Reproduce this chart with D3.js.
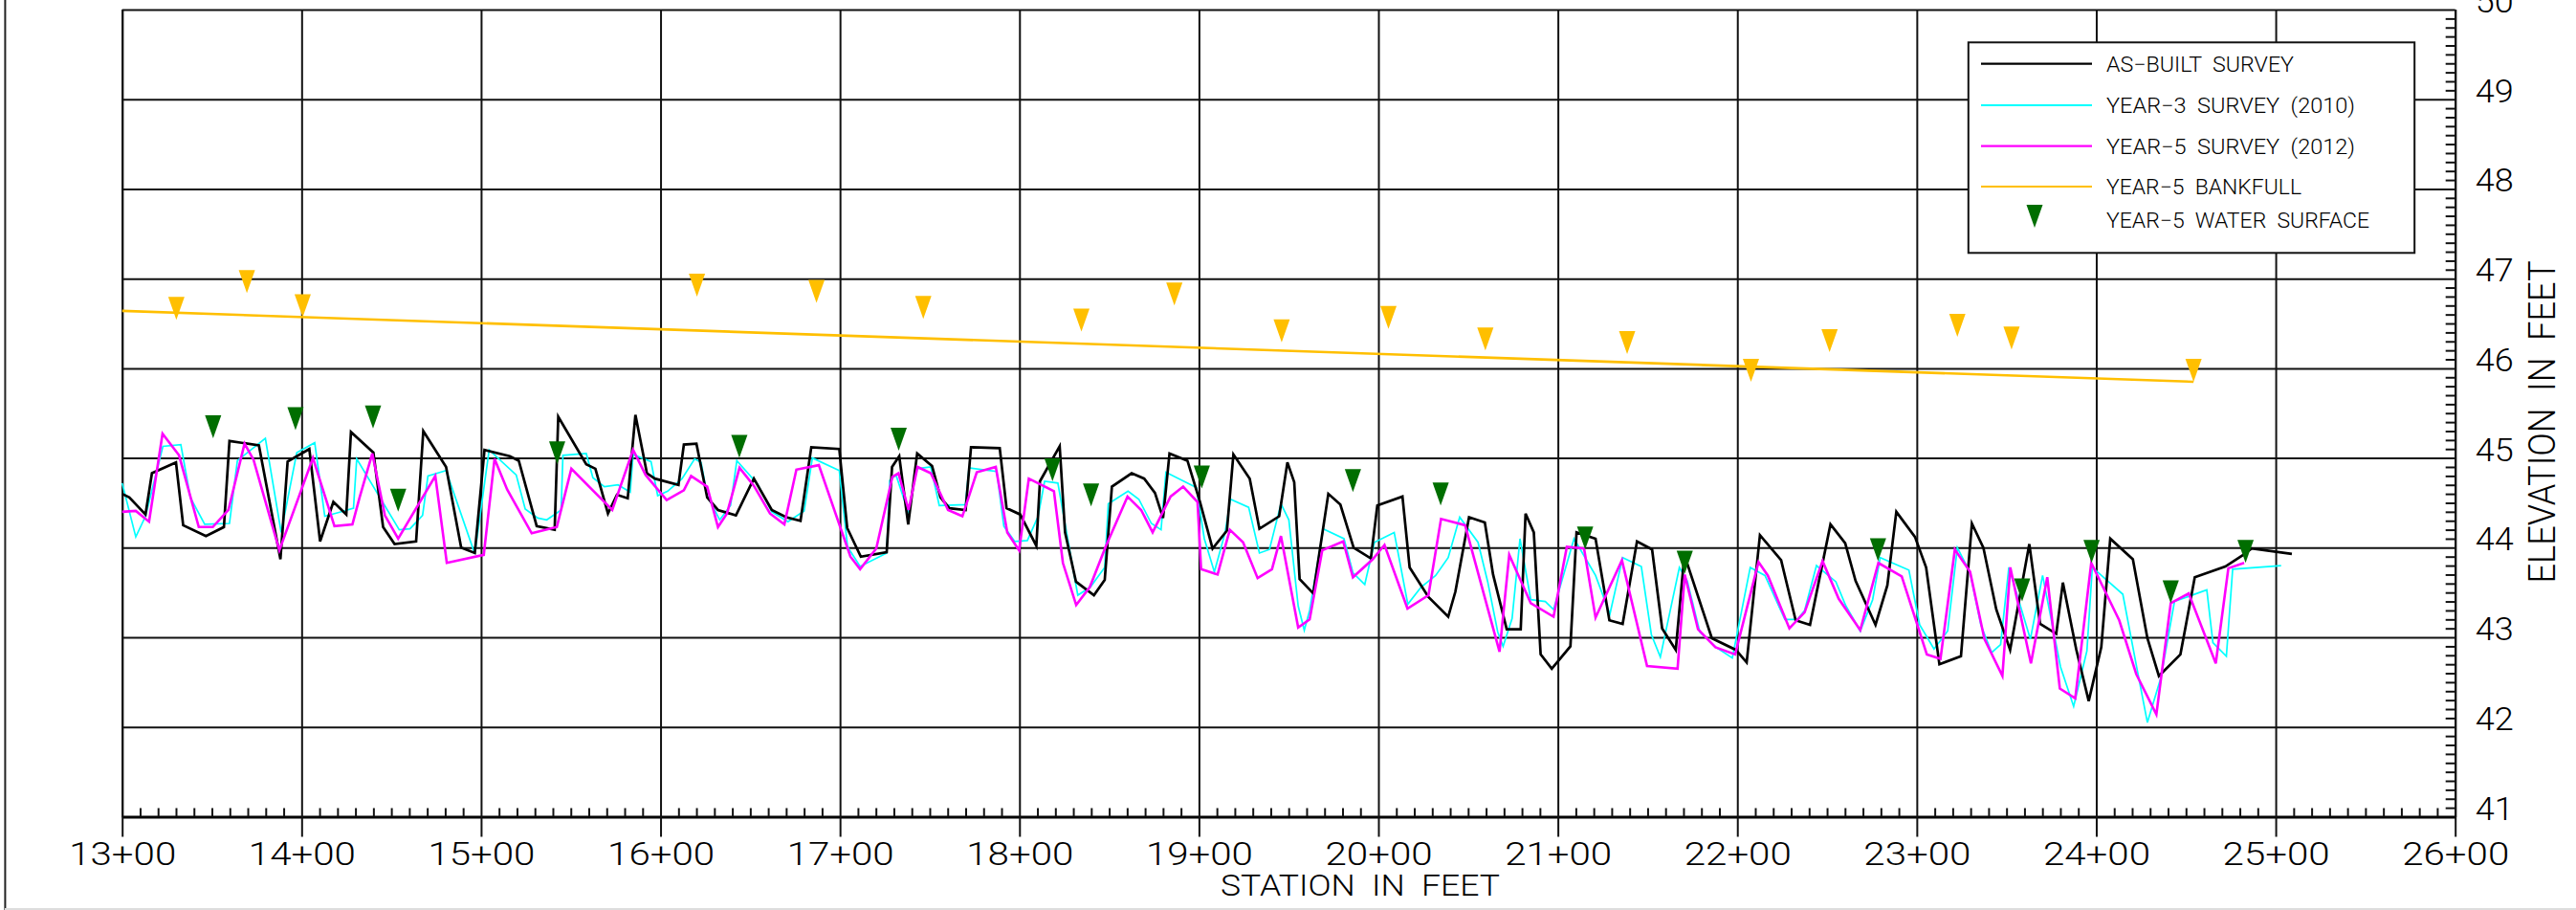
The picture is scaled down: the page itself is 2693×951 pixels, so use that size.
<!DOCTYPE html>
<html>
<head>
<meta charset="utf-8">
<script src="https://cdn.jsdelivr.net/npm/d3@7"></script>
<style>
html, body { margin: 0; padding: 0; background: #fff; }
svg { display: block; }
text { font-family: Roboto, "DejaVu Sans Condensed", sans-serif; font-weight: 300; fill: #000; white-space: pre; }
</style>
</head>
<body>
<div id="chart"></div>
<script>
// ---- data: [station (ft), elevation (ft)] ----
var asBuilt = [[1300,44.60],[1304,44.56],[1313,44.37],[1316.6,44.83],[1330,44.95],[1334,44.25],[1346.7,44.13],[1356.7,44.23],[1359.8,45.19],[1376.2,45.14],[1388.2,43.87],[1392.2,44.96],[1404.3,45.10],[1410.3,44.07],[1417.7,44.51],[1424.9,44.37],[1427.5,45.29],[1440,45.06],[1445.4,44.23],[1451.8,44.04],[1463.8,44.07],[1467.8,45.30],[1480.5,44.90],[1488.9,44.00],[1496.5,43.94],[1501.9,45.09],[1516,45.02],[1521,44.97],[1531,44.24],[1541,44.20],[1543,45.46],[1558.6,44.93],[1563.7,44.88],[1570.7,44.38],[1575.7,44.59],[1581.7,44.55],[1586,45.48],[1592.4,44.83],[1596.8,44.77],[1610,44.70],[1613,45.15],[1620,45.16],[1626,44.56],[1632,44.42],[1642,44.36],[1652,44.77],[1662,44.42],[1670,44.34],[1678,44.30],[1684,45.12],[1699.6,45.10],[1704,44.22],[1711.6,43.90],[1726,43.95],[1729,44.90],[1733,45.02],[1738,44.26],[1743,45.05],[1751.3,44.91],[1756,44.56],[1761,44.44],[1770,44.42],[1773,45.12],[1789,45.11],[1792.8,44.44],[1800.4,44.37],[1809.4,44.02],[1811.4,44.74],[1822.4,45.13],[1825.4,44.17],[1831.5,43.62],[1841.5,43.47],[1847.5,43.64],[1851.5,44.68],[1862.5,44.83],[1869.5,44.77],[1875.5,44.61],[1880,44.33],[1883.6,45.05],[1893.6,44.97],[1900.6,44.51],[1907.6,43.99],[1915.6,44.19],[1919.2,45.04],[1928.3,44.77],[1933.7,44.21],[1944.7,44.35],[1949.3,44.95],[1953.1,44.73],[1956.1,43.65],[1963.7,43.49],[1972.1,44.60],[1978.8,44.48],[1986.2,44.00],[1995.8,43.88],[1999.4,44.47],[2013.4,44.57],[2017.4,43.78],[2027.9,43.45],[2038.9,43.23],[2042.9,43.51],[2050.5,44.34],[2059.3,44.28],[2063.9,43.70],[2071.5,43.09],[2079.3,43.09],[2082,44.38],[2086.6,44.17],[2090.4,42.81],[2096.6,42.65],[2107,42.90],[2110.4,44.17],[2121,44.10],[2128.7,43.19],[2136.1,43.15],[2144.1,44.07],[2152.5,43.98],[2158.1,43.10],[2165.7,42.86],[2170.5,43.92],[2185.8,42.99],[2199.2,42.86],[2205.2,42.72],[2212.6,44.14],[2224.4,43.86],[2232.5,43.19],[2240.5,43.14],[2251.9,44.26],[2260.1,44.05],[2265.9,43.63],[2277,43.14],[2283.6,43.58],[2288.6,44.40],[2299,44.12],[2305.2,43.78],[2312.6,42.70],[2324.6,42.79],[2330.7,44.27],[2337.1,44.00],[2344.3,43.31],[2352,42.86],[2362.7,44.04],[2368.7,43.15],[2377.7,43.04],[2381.4,43.61],[2388.8,42.87],[2395.8,42.29],[2402.8,42.89],[2407.8,44.10],[2420.4,43.87],[2428.5,42.99],[2434.9,42.57],[2446.9,42.81],[2454.9,43.67],[2471.9,43.79],[2481.9,43.92],[2486.6,43.99],[2509,43.93]];

var year3 = [[1300,44.72],[1307.6,44.12],[1313,44.35],[1322.7,45.13],[1332.7,45.15],[1338,44.56],[1346,44.26],[1359.8,44.27],[1364.2,44.97],[1379.8,45.22],[1388.6,44.17],[1397.3,45.06],[1407.3,45.17],[1412.9,44.35],[1420.3,44.39],[1428.9,44.44],[1430.7,44.99],[1454.4,44.20],[1460.4,44.21],[1467.4,44.36],[1470.4,44.80],[1480.5,44.86],[1496.5,43.93],[1504.5,45.09],[1519.6,44.81],[1524.6,44.43],[1531.6,44.33],[1536.6,44.31],[1544.6,44.42],[1545.6,45.03],[1558.6,45.05],[1562.3,44.78],[1568.7,44.68],[1576.3,44.70],[1583.1,44.62],[1584.7,45.04],[1594.7,44.96],[1598.4,44.58],[1604,44.63],[1612,44.77],[1619,44.99],[1622.6,44.95],[1626,44.58],[1633,44.31],[1639,44.47],[1642.5,44.97],[1654,44.71],[1662,44.40],[1671,44.29],[1680,44.41],[1684.6,45.00],[1699.6,44.86],[1704.2,44.01],[1711.2,43.79],[1726,43.94],[1727.7,44.75],[1731.2,44.81],[1738.3,44.38],[1742.6,44.88],[1750.6,44.90],[1755.3,44.47],[1769.9,44.48],[1771.9,44.89],[1787.3,44.85],[1791.3,44.24],[1797.3,44.07],[1804.4,44.08],[1810.4,44.35],[1814,44.74],[1821.4,44.72],[1827.4,44.04],[1832.5,43.47],[1839.5,43.56],[1847.5,43.78],[1849.5,44.49],[1860.5,44.63],[1866.5,44.54],[1873.5,44.27],[1878.9,44.20],[1881.6,44.84],[1898.6,44.67],[1903,44.10],[1908.6,43.73],[1914.6,44.17],[1917.6,44.54],[1927.7,44.45],[1933.7,43.94],[1939.3,43.98],[1945.7,44.49],[1950.1,44.31],[1955.3,43.35],[1958.7,43.08],[1961.7,43.30],[1969.3,44.21],[1980.8,44.10],[1985.8,43.72],[1992.4,43.59],[1997.8,44.06],[2008.8,44.17],[2016.4,43.37],[2023.8,43.56],[2031.9,43.69],[2038.9,43.89],[2045.3,44.34],[2055.5,44.06],[2060.9,43.62],[2066.5,43.06],[2069.5,42.90],[2074.5,43.21],[2078.9,44.10],[2084.9,43.42],[2093,43.40],[2097.6,43.31],[2109,44.10],[2121,43.69],[2129,43.26],[2136.1,43.89],[2146.5,43.79],[2152.1,43.03],[2157.1,42.78],[2167.7,43.78],[2172.1,43.63],[2179.1,43.06],[2188.1,42.89],[2197.2,42.77],[2207.2,43.78],[2215.4,43.69],[2226.5,43.20],[2233.5,43.20],[2237.5,43.30],[2244.1,43.80],[2254.9,43.62],[2260.5,43.35],[2268.5,43.07],[2275.4,43.42],[2279.6,43.89],[2295.6,43.75],[2301.6,43.14],[2309.6,42.87],[2317.2,43.07],[2322.6,44.00],[2329.7,43.72],[2335.7,43.14],[2341.7,42.83],[2346.7,42.92],[2351.3,43.78],[2363.3,42.98],[2370.1,43.69],[2380.1,42.67],[2387.4,42.23],[2394.8,42.85],[2397.8,43.78],[2414.8,43.48],[2422.8,42.64],[2428.5,42.05],[2436,42.55],[2443.6,43.40],[2461.6,43.53],[2465,42.94],[2472.5,42.79],[2476,43.76],[2503,43.80]];

var year5 = [[1300,44.40],[1307.6,44.41],[1315,44.29],[1322.5,45.27],[1331.7,45.03],[1342.7,44.23],[1350.5,44.23],[1359.2,44.42],[1368.2,45.16],[1373.2,44.98],[1387.6,43.97],[1406.3,45.00],[1418.3,44.24],[1428.3,44.26],[1432.3,44.56],[1439.4,45.05],[1446.4,44.36],[1453.8,44.10],[1474.5,44.80],[1480.9,43.83],[1501.5,43.92],[1507.5,44.99],[1514.5,44.65],[1528.2,44.16],[1542.2,44.23],[1550.3,44.88],[1573.1,44.42],[1584.7,45.09],[1591.7,44.81],[1603.4,44.53],[1613,44.64],[1617,44.80],[1626,44.68],[1632,44.23],[1637,44.38],[1644,44.89],[1652,44.69],[1661,44.38],[1669,44.26],[1675.7,44.87],[1688.2,44.92],[1705.8,43.90],[1711.2,43.76],[1720.2,43.99],[1729.2,44.79],[1732.6,44.83],[1738.2,44.42],[1743.2,44.90],[1750.6,44.83],[1760.2,44.42],[1768.2,44.35],[1776.2,44.84],[1786.8,44.90],[1793.2,44.17],[1799.8,43.97],[1805.2,44.77],[1819.2,44.63],[1824.2,43.83],[1831.6,43.36],[1839.2,43.56],[1848.2,44.02],[1860.2,44.57],[1867.8,44.42],[1874.2,44.17],[1884.2,44.57],[1891.2,44.68],[1899.2,44.51],[1901.2,43.76],[1910.4,43.70],[1917.2,44.20],[1924.6,44.06],[1932.7,43.66],[1940.7,43.76],[1945.7,44.13],[1955.3,43.11],[1961.7,43.20],[1968.7,43.97],[1980.4,44.07],[1985.8,43.67],[1996.8,43.87],[2003.4,44.03],[2016.2,43.32],[2027.9,43.47],[2034.9,44.32],[2048.3,44.25],[2067.5,42.84],[2072.9,43.92],[2084.9,43.38],[2097.6,43.23],[2105,44.01],[2114.6,43.99],[2121,43.22],[2135.7,43.86],[2149.7,42.68],[2166.7,42.65],[2170.7,43.70],[2178.1,43.09],[2187.8,42.89],[2198.8,42.81],[2211.8,43.84],[2217,43.69],[2229,43.10],[2237.5,43.28],[2247.5,43.85],[2256.5,43.43],[2268.5,43.08],[2278.6,43.83],[2291.6,43.68],[2305.6,42.81],[2313.2,42.76],[2321.2,43.98],[2329.7,43.73],[2337.7,42.98],[2347.7,42.57],[2352.1,43.78],[2363.6,42.71],[2372.7,43.67],[2379.7,42.43],[2388.3,42.32],[2397.2,43.83],[2412.8,43.19],[2422.3,42.59],[2433.5,42.14],[2441.5,43.38],[2451.5,43.49],[2466.6,42.71],[2473.6,43.77],[2482.4,43.83]];

var bankfullLine = [[1300,46.64],[2454.2,45.85]];
var bankfullSta  = [1330.2,1369.5,1400.6,1620.3,1686.9,1746.4,1834.5,1886.3,1946.1,2005.6,2059.6,2138.6,2207.6,2251.4,2322.6,2352.8,2454.2];
var bankfullElev = [46.54,46.84,46.57,46.80,46.73,46.55,46.41,46.70,46.29,46.44,46.20,46.16,45.85,46.18,46.35,46.21,45.85];

var waterSta  = [1350.7,1396.6,1439.8,1453.8,1542.4,1643.9,1732.7,1818.4,1839.9,1901.6,1985.8,2034.7,2115.2,2170.7,2278.4,2358.7,2397.4,2441.5,2483.2];
var waterElev = [45.22,45.31,45.33,44.40,44.93,45.00,45.08,44.74,44.46,44.66,44.62,44.47,43.98,43.71,43.85,43.40,43.83,43.38,43.83];

var stationTicks = d3.range(1300, 2601, 100);
var elevTicks = d3.range(41, 51, 1);
var legendLabels = ["AS\u2212BUILT  SURVEY", "YEAR\u22123  SURVEY  (2010)", "YEAR\u22125  SURVEY  (2012)", "YEAR\u22125  BANKFULL", "YEAR\u22125  WATER  SURFACE"];

function draw_profile(_containerId) {
	var WIDTH = 2693, HEIGHT = 951;
	var LEFT = 127.7, RIGHT = 2566.7, TOP = 10, BOTTOM = 853.5;
	var GREEN = "#006e00", GOLD = "#ffbf00";

	var svg = d3.select(_containerId).append("svg")
		.attr("width", WIDTH)
		.attr("height", HEIGHT);

	var x = d3.scaleLinear().domain([1300, 2600]).range([LEFT, RIGHT]);
	var y = d3.scaleLinear().domain([41, 50]).range([BOTTOM, TOP]);

	function staFmt(d) {
		var h = Math.floor(d / 100), r = Math.round(d - h * 100);
		return h + "+" + (r < 10 ? "0" + r : r);
	}

	// sheet border on the left
	svg.append("line").attr("x1", 5.4).attr("x2", 5.4).attr("y1", 0).attr("y2", HEIGHT)
		.attr("stroke", "#222").attr("stroke-width", 2);
	svg.append("line").attr("x1", 5).attr("x2", WIDTH).attr("y1", HEIGHT - 1).attr("y2", HEIGHT - 1)
		.attr("stroke", "#ddd").attr("stroke-width", 2);

	// horizontal grid
	var hGrid = svg.append("g").attr("transform", "translate(" + LEFT + ",0)")
		.call(d3.axisLeft(y).tickValues(elevTicks).tickSize(-(RIGHT - LEFT)).tickSizeOuter(0).tickFormat(""));
	hGrid.selectAll("line").attr("stroke", "#111").attr("stroke-width", 2);
	hGrid.select(".domain").attr("stroke", "#111").attr("stroke-width", 2);

	// vertical grid + station labels
	var xAxis = svg.append("g").attr("transform", "translate(0," + BOTTOM + ")")
		.call(d3.axisBottom(x).tickValues(stationTicks).tickSize(21).tickSizeOuter(0).tickFormat(staFmt));
	xAxis.selectAll(".tick line").attr("y1", -(BOTTOM - TOP)).attr("stroke", "#111").attr("stroke-width", 2);
	xAxis.select(".domain").attr("stroke", "#000").attr("stroke-width", 3);
	xAxis.selectAll("text")
		.attr("y", 50.5).attr("dy", 0)
		.attr("font-size", 34)
		.attr("textLength", 112).attr("lengthAdjust", "spacingAndGlyphs")
		.style("font-family", "Roboto, sans-serif").style("font-weight", 300).attr("fill", "#000");

	// minor station ticks every 10 ft
	var minorSta = d3.range(1310, 2600, 10).filter(function(d){ return d % 100 !== 0; });
	var xMinor = svg.append("g").attr("transform", "translate(0," + BOTTOM + ")")
		.call(d3.axisBottom(x).tickValues(minorSta).tickSize(-9).tickFormat(""));
	xMinor.select(".domain").remove();
	xMinor.selectAll("line").attr("stroke", "#111").attr("stroke-width", 2);

	// right elevation axis
	var yAxis = svg.append("g").attr("transform", "translate(" + RIGHT + ",0)")
		.call(d3.axisRight(y).tickValues(elevTicks).tickSize(0).tickPadding(21).tickSizeOuter(0));
	yAxis.select(".domain").attr("stroke", "#111").attr("stroke-width", 2);
	yAxis.selectAll("text")
		.attr("dy", 0).attr("y", 2.5)
		.attr("font-size", 34)
		.attr("textLength", 40).attr("lengthAdjust", "spacingAndGlyphs")
		.style("font-family", "Roboto, sans-serif").style("font-weight", 300).attr("fill", "#000");

	var minorElev = d3.range(410, 500, 1).filter(function(d){ return d % 10 !== 0; }).map(function(d){ return d / 10; });
	var yMinor = svg.append("g").attr("transform", "translate(" + RIGHT + ",0)")
		.call(d3.axisLeft(y).tickValues(minorElev).tickSize(10).tickFormat(""));
	yMinor.select(".domain").remove();
	yMinor.selectAll("line").attr("stroke", "#111").attr("stroke-width", 2);

	// axis titles
	svg.append("text").attr("x", 1422).attr("y", 936)
		.attr("text-anchor", "middle").attr("font-size", 31)
		.attr("textLength", 292).attr("lengthAdjust", "spacingAndGlyphs")
		.text("STATION  IN  FEET");
	svg.append("text").attr("transform", "translate(2671,441) rotate(-90)")
		.attr("text-anchor", "middle").attr("font-size", 39)
		.attr("textLength", 337).attr("lengthAdjust", "spacingAndGlyphs")
		.text("ELEVATION  IN  FEET");

	// profiles
	var line = d3.line().x(function(d){ return x(d[0]); }).y(function(d){ return y(d[1]); });
	var plot = svg.append("g").attr("id", "profiles");
	plot.append("path").datum(bankfullLine).attr("d", line)
		.attr("fill", "none").attr("stroke", GOLD).attr("stroke-width", 2.6);
	plot.append("path").datum(year3).attr("d", line)
		.attr("fill", "none").attr("stroke", "#00ffff").attr("stroke-width", 1.7).attr("stroke-linejoin", "miter");
	plot.append("path").datum(asBuilt).attr("d", line)
		.attr("fill", "none").attr("stroke", "#000").attr("stroke-width", 2.7).attr("stroke-linejoin", "miter");
	plot.append("path").datum(year5).attr("d", line)
		.attr("fill", "none").attr("stroke", "#ff00ff").attr("stroke-width", 2.6).attr("stroke-linejoin", "miter");

	// inverted triangle markers, tip on the elevation
	var tri = "M-8.5,-24L8.5,-24L0,0Z";
	plot.selectAll("path.bkf").data(d3.zip(bankfullSta, bankfullElev)).enter()
		.append("path").attr("class", "bkf").attr("d", tri)
		.attr("transform", function(d){ return "translate(" + x(d[0]) + "," + y(d[1]) + ")"; })
		.attr("fill", GOLD);
	plot.selectAll("path.ws").data(d3.zip(waterSta, waterElev)).enter()
		.append("path").attr("class", "ws").attr("d", tri)
		.attr("transform", function(d){ return "translate(" + x(d[0]) + "," + y(d[1]) + ")"; })
		.attr("fill", GREEN);

	// legend
	var lg = svg.append("g").attr("id", "legend");
	lg.append("rect").attr("x", 2057.8).attr("y", 44.3).attr("width", 466.4).attr("height", 220)
		.attr("fill", "#fff").attr("stroke", "#111").attr("stroke-width", 2);
	var rowY = [66.7, 110, 152.7, 195, 229.5];
	var rowW = [196, 260, 260, 204, 275];
	var rowColor = ["#000", "#00ffff", "#ff00ff", GOLD];
	rowColor.forEach(function(c, i){
		lg.append("line").attr("x1", 2071).attr("x2", 2187).attr("y1", rowY[i]).attr("y2", rowY[i])
			.attr("stroke", c).attr("stroke-width", 2.2);
	});
	lg.append("path").attr("d", tri).attr("transform", "translate(2127,238)").attr("fill", GREEN);
	lg.selectAll("text.lbl").data(legendLabels).enter().append("text").attr("class", "lbl")
		.attr("x", 2202).attr("y", function(d, i){ return rowY[i] + 8; })
		.attr("font-size", 22)
		.attr("textLength", function(d, i){ return rowW[i]; }).attr("lengthAdjust", "spacingAndGlyphs")
		.text(function(d){ return d; });
}

draw_profile("#chart");
</script>
</body>
</html>
